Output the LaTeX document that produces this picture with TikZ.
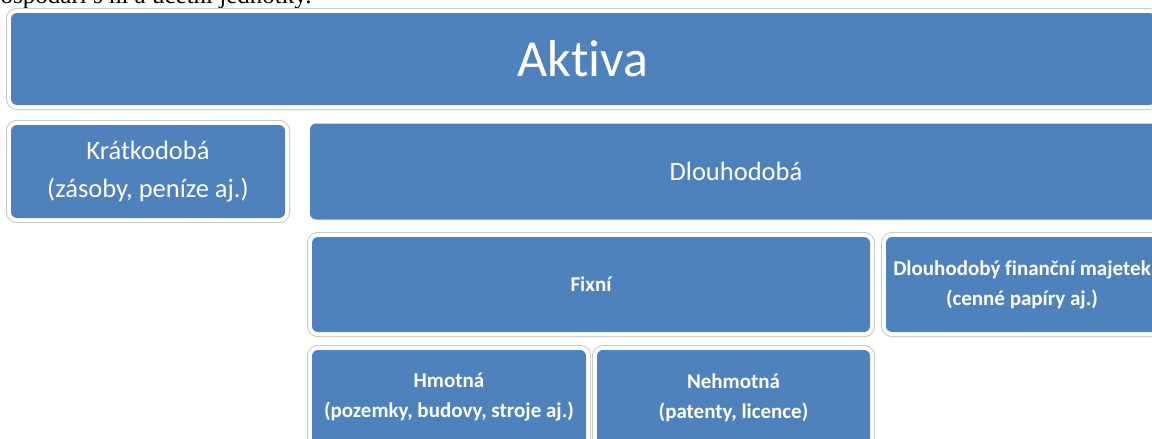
\documentclass[tikz,border=0pt]{standalone}
\usepackage{fontspec}
\setmainfont{Carlito}[Ligatures=NoCommon]
\newfontfamily\topserif{Liberation Serif}
\usetikzlibrary{positioning}
\definecolor{akBlue}{RGB}{79,129,189}
\definecolor{akFrame}{RGB}{200,200,200}

\begin{document}
\begin{tikzpicture}[
    x=1pt, y=-1pt,
    blk/.style={fill=akBlue, text=white, rounded corners=6pt, align=center,
                inner sep=0pt},
    framed/.style={blk,
                preaction={draw=akFrame, line width=10pt},
                preaction={draw=white, line width=8pt}},
    big/.style={font=\fontsize{52}{60}\selectfont},
    mid/.style={font=\fontsize{26.5}{38}\selectfont},
    small/.style={font=\bfseries\fontsize{21}{30}\selectfont}
]
\useasboundingbox (0,0) rectangle (1152,439);
\clip (0,0) rectangle (1152,439);

% cut-off line of the surrounding text
\node[anchor=base west, inner sep=0pt, font=\topserif\fontsize{25}{28}\selectfont]
    (veta) at (-12,3) {hospodaří s ní a účetní jednotky.};

% top level
\node[framed, big, minimum width=1144pt, minimum height=92pt] (aktiva)
    at (583,59) {Aktiva};

% second level: short-term and long-term
\node[framed, mid, minimum width=274pt, minimum height=93pt] (kratko)
    at (148,171.5) {Krátkodobá\\(zásoby, peníze aj.)};
\node[blk, mid, minimum width=852pt, minimum height=96pt] (dlouho)
    at (736,171.5) {Dlouhodobá};

% third level
\node[framed, small, minimum width=558pt, minimum height=95pt] (fixni)
    at (591,284.5) {Fixní};
\node[framed, small, minimum width=272pt, minimum height=95pt] (financni)
    at (1022,284.5) {Dlouhodobý finanční majetek\\(cenné papíry aj.)};

% fourth level, cut at the bottom
\node[framed, small, minimum width=274pt, minimum height=95pt] (hmotna)
    at (449,397.5) {Hmotná\\(pozemky, budovy, stroje aj.)};
\node[framed, small, minimum width=273pt, minimum height=95pt] (nehmotna)
    at (733.5,397.5) {Nehmotná\\(patenty, licence)};

\end{tikzpicture}
\end{document}
